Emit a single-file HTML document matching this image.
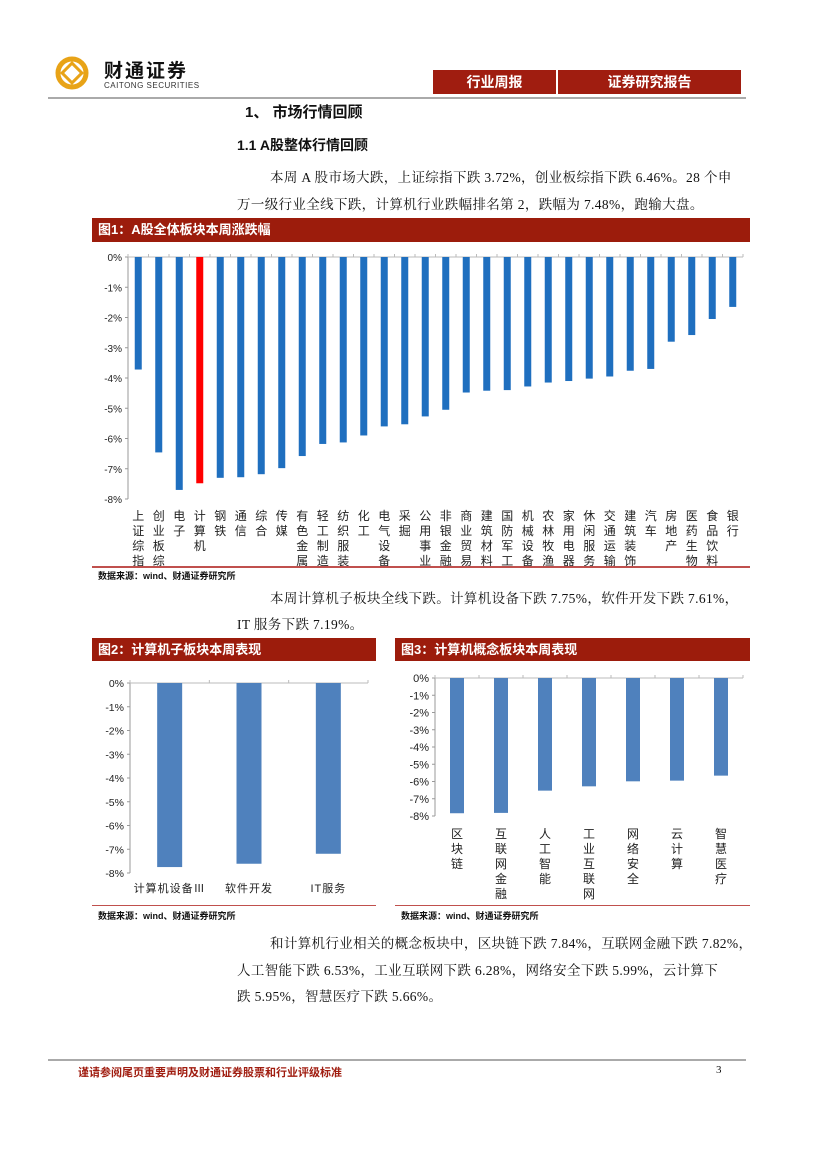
<!DOCTYPE html>
<html><head><meta charset="utf-8">
<style>
body{margin:0;background:#fff;}
#page{position:relative;width:827px;height:1169px;overflow:hidden;font-family:"Liberation Serif","Noto Serif CJK SC",serif;color:#111;}
.abs{position:absolute;white-space:nowrap;}
.p{font-size:13.5px;letter-spacing:0.35px;}
.bar-title{position:absolute;background:#9c1c0c;color:#fff;font-family:"Liberation Sans","Noto Sans CJK SC",sans-serif;font-weight:bold;font-size:13px;line-height:23px;padding-left:6px;box-sizing:border-box;}
.src{position:absolute;font-family:"Liberation Sans","Noto Sans CJK SC",sans-serif;font-weight:bold;font-size:9px;}
svg text{font-family:"Liberation Sans","Noto Sans CJK SC",sans-serif;}
</style></head><body>
<div id="page">
<svg class="abs" style="left:54px;top:55px" width="36" height="36">
<circle cx="18" cy="18" r="14" fill="none" stroke="#e8a317" stroke-width="5"/>
<rect x="11" y="11" width="14" height="14" transform="rotate(45 18 18)" fill="none" stroke="#e8a317" stroke-width="3"/>
</svg>
<div class="abs" style="left:104px;top:56px;font-size:19px;font-weight:bold;font-family:'Liberation Sans','Noto Sans CJK SC',sans-serif;letter-spacing:2px">财通证券</div>
<div class="abs" style="left:104px;top:81px;font-size:8px;font-family:'Liberation Sans',sans-serif;color:#333;letter-spacing:0.5px">CAITONG SECURITIES</div>
<div class="abs" style="left:433px;top:70px;width:123px;height:24px;background:#a01d10;color:#fff;font-weight:bold;font-size:14px;line-height:24px;text-align:center;font-family:'Liberation Sans','Noto Sans CJK SC',sans-serif">行业周报</div>
<div class="abs" style="left:558px;top:70px;width:183px;height:24px;background:#a01d10;color:#fff;font-weight:bold;font-size:14px;line-height:24px;text-align:center;font-family:'Liberation Sans','Noto Sans CJK SC',sans-serif">证券研究报告</div>
<div class="abs" style="left:48px;top:97px;width:698px;height:2px;background:#aaa"></div>
<div class="abs" style="left:245px;top:101px;font-size:15px;font-weight:bold;font-family:'Liberation Sans','Noto Sans CJK SC',sans-serif">1、 市场行情回顾</div>
<div class="abs" style="left:237px;top:135px;font-size:14px;font-weight:bold;font-family:'Liberation Sans','Noto Sans CJK SC',sans-serif">1.1 A股整体行情回顾</div>
<div class="abs p" style="left:270px;top:166px">本周 A 股市场大跌，上证综指下跌 3.72%，创业板综指下跌 6.46%。28 个申</div>
<div class="abs p" style="left:237px;top:193px">万一级行业全线下跌，计算机行业跌幅排名第 2，跌幅为 7.48%，跑输大盘。</div>

<div class="bar-title" style="left:92px;top:218px;width:658px;height:24px">图1：A股全体板块本周涨跌幅</div>
<svg id="c1" class="abs" style="left:0;top:245px" width="827" height="322"></svg>
<div class="abs" style="left:92px;top:566px;width:658px;height:2px;background:#c0504d"></div>
<div class="src" style="left:98px;top:569px">数据来源：wind、财通证券研究所</div>

<div class="abs p" style="left:270px;top:587px">本周计算机子板块全线下跌。计算机设备下跌 7.75%，软件开发下跌 7.61%，</div>
<div class="abs p" style="left:237px;top:613px">IT 服务下跌 7.19%。</div>

<div class="bar-title" style="left:92px;top:638px;width:284px;height:23px">图2：计算机子板块本周表现</div>
<svg id="c2" class="abs" style="left:90px;top:661px" width="290" height="245"></svg>
<div class="abs" style="left:92px;top:905px;width:284px;height:1px;background:#c0504d"></div>
<div class="src" style="left:98px;top:909px">数据来源：wind、财通证券研究所</div>

<div class="bar-title" style="left:395px;top:638px;width:355px;height:23px">图3：计算机概念板块本周表现</div>
<svg id="c3" class="abs" style="left:390px;top:661px" width="365" height="245"></svg>
<div class="abs" style="left:395px;top:905px;width:355px;height:1px;background:#c0504d"></div>
<div class="src" style="left:401px;top:909px">数据来源：wind、财通证券研究所</div>

<div class="abs p" style="left:270px;top:932px">和计算机行业相关的概念板块中，区块链下跌 7.84%，互联网金融下跌 7.82%，</div>
<div class="abs p" style="left:237px;top:959px">人工智能下跌 6.53%，工业互联网下跌 6.28%，网络安全下跌 5.99%，云计算下</div>
<div class="abs p" style="left:237px;top:985px">跌 5.95%，智慧医疗下跌 5.66%。</div>

<div class="abs" style="left:48px;top:1059px;width:698px;height:2px;background:#aaa"></div>
<div class="abs" style="left:78px;top:1064px;font-size:11px;font-weight:bold;color:#a01d10;font-family:'Liberation Sans','Noto Sans CJK SC',sans-serif">谨请参阅尾页重要声明及财通证券股票和行业评级标准</div>
<div class="abs" style="left:716px;top:1064px;font-size:11px">3</div>
</div>
<script>
const NS='http://www.w3.org/2000/svg';
const c1Cats=['上证综指','创业板综','电子','计算机','钢铁','通信','综合','传媒','有色金属','轻工制造','纺织服装','化工','电气设备','采掘','公用事业','非银金融','商业贸易','建筑材料','国防军工','机械设备','农林牧渔','家用电器','休闲服务','交通运输','建筑装饰','汽车','房地产','医药生物','食品饮料','银行'];
const c1Vals=[-3.72,-6.46,-7.7,-7.48,-7.3,-7.28,-7.18,-6.98,-6.58,-6.18,-6.13,-5.9,-5.6,-5.53,-5.27,-5.05,-4.48,-4.42,-4.4,-4.28,-4.15,-4.1,-4.02,-3.95,-3.76,-3.7,-2.8,-2.58,-2.05,-1.65];
const c1Ticks=[0,-1,-2,-3,-4,-5,-6,-7,-8];
const c2Cats=['计算机设备Ⅲ','软件开发','IT服务'];
const c2Vals=[-7.75,-7.61,-7.19];
const c2Ticks=[0,-1,-2,-3,-4,-5,-6,-7,-8];
const c3Cats=['区块链','互联网金融','人工智能','工业互联网','网络安全','云计算','智慧医疗'];
const c3Vals=[-7.84,-7.82,-6.53,-6.28,-5.99,-5.95,-5.66];
const c3Ticks=[0,-1,-2,-3,-4,-5,-6,-7,-8];

function mk(parent,tag,attrs,txt){const e=document.createElementNS(NS,tag);for(const k in attrs)e.setAttribute(k,attrs[k]);if(txt!==undefined)e.textContent=txt;parent.appendChild(e);return e;}

function chart(id,cfg,cats,vals,ticks,prefix){
  const svg=document.getElementById(id);
  const y=v=>cfg.y0+(-v)*(cfg.y8-cfg.y0)/8;
  const step=(cfg.xEnd-cfg.x0)/cats.length;
  const x=i=>cfg.x0+step*(i+0.5);
  const ax=mk(svg,'line',{x1:cfg.x0,y1:cfg.y0,x2:cfg.x0,y2:cfg.y8,stroke:'#999','stroke-width':1});
  
  
  const bx=mk(svg,'line',{x1:cfg.x0,y1:cfg.y0,x2:cfg.xEnd,y2:cfg.y0,stroke:'#bbb','stroke-width':1});
  
  
  ticks.forEach(t=>{
    const tl=mk(svg,'line',{x1:cfg.x0-3,y1:y(t),x2:cfg.x0,y2:y(t),stroke:'#999'});
    
    
    const tx=mk(svg,'text',{x:cfg.x0-6,y:y(t)+4,'text-anchor':'end','font-size':cfg.fs,fill:'#222'},t+'%');
    
    
  });
  for(let i=0;i<=cats.length;i++){
    const g=mk(svg,'line',{x1:cfg.x0+step*i,y1:cfg.y0-3,x2:cfg.x0+step*i,y2:cfg.y0,stroke:'#bbb'});
    
    
  }
  cats.forEach((c,i)=>{
    const v=vals[i];
    const r=mk(svg,'rect',{x:x(i)-cfg.bw/2,y:cfg.y0,width:cfg.bw,height:y(v)-cfg.y0,fill:(cfg.hi===i?'#ff0000':cfg.color)});
    
    
    if(cfg.vertical){
      const t=mk(svg,'text',{'font-size':cfg.lfs,fill:'#222','text-anchor':'middle'});
      
      
      [...c].forEach((ch,k)=>mk(t,'tspan',{x:x(i),y:cfg.ly+k*cfg.lh},ch));
    } else {
      const t=mk(svg,'text',{x:x(i),y:cfg.ly,'font-size':cfg.lfs,fill:'#222','text-anchor':'middle','letter-spacing':'1'},c);
      
      
    }
  });
}
chart('c1',{x0:128,xEnd:743,y0:12,y8:254,bw:7,color:'#1f6fbf',hi:3,fs:10,lfs:12,lh:15,ly:275,vertical:true},c1Cats,c1Vals,c1Ticks,'fig1');
chart('c2',{x0:40,xEnd:278,y0:22,y8:212,bw:25,color:'#4f81bd',fs:10.5,lfs:11,ly:231,vertical:false},c2Cats,c2Vals,c2Ticks,'fig2');
chart('c3',{x0:45,xEnd:353,y0:17,y8:155,bw:14,color:'#4f81bd',fs:11,lfs:12,lh:15,ly:177,vertical:true},c3Cats,c3Vals,c3Ticks,'fig3');
</script>
</body></html>
